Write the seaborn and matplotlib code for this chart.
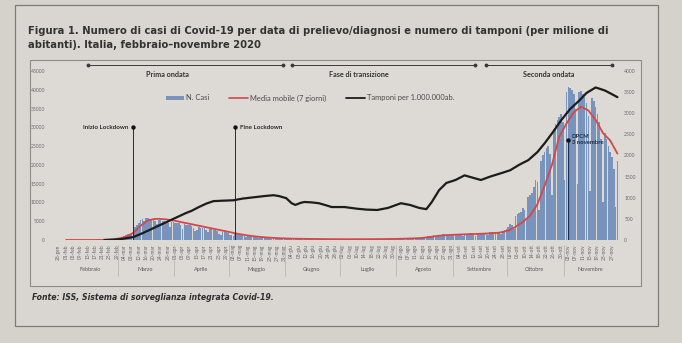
import numpy as np
import pandas as pd
import matplotlib
matplotlib.use("Agg")
import matplotlib.pyplot as plt
import matplotlib.transforms as mtransforms
from matplotlib.patches import Rectangle, Patch
from matplotlib.lines import Line2D
import seaborn as sns

# ---------------- data ----------------
START = pd.Timestamp("2020-02-01")

cases_feb = [0] * 17 + [5, 10, 25, 50, 90, 80, 160, 220, 260, 300, 350, 380]
cases_mar = [300, 500, 700, 950, 1200, 1500, 1600, 1500, 2800, 3400, 4000, 4600, 5400, 5600, 5000,
             5900, 5800, 5600, 5500, 5500, 5100, 4200, 5300, 5200, 5100, 5000, 4900, 4400, 3500,
             4800, 4700]
cases_apr = [4600, 4500, 4400, 3900, 3000, 4200, 4100, 4000, 3900, 3700, 3200, 2300, 2600, 3400,
             3300, 3200, 3100, 2700, 2000, 2900, 2800, 2700, 2600, 2400, 1700, 1400, 2200, 2100,
             2000, 1900]
cases_may = [1400, 1300, 1000, 1700, 1600, 1500, 1400, 1300, 1100, 750, 1200, 1100, 1000, 950, 900,
             750, 520, 800, 750, 700, 650, 620, 500, 360, 580, 550, 520, 500, 470, 400, 290]
cases_jun = [330, 260, 390, 380, 370, 310, 230, 340, 330, 320, 310, 300, 250, 180, 290, 280, 270,
             260, 250, 210, 160, 250, 240, 230, 230, 220, 190, 140, 220, 210]
cases_jul = [210, 210, 200, 170, 130, 210, 210, 220, 220, 220, 180, 140, 230, 230, 240, 240, 240,
             200, 150, 260, 260, 270, 270, 280, 230, 170, 300, 310, 320, 330, 340]
cases_aug = [280, 210, 360, 370, 390, 410, 430, 360, 270, 490, 530, 570, 610, 650, 460, 410, 900,
             1000, 1100, 1150, 1200, 1000, 800, 1400, 1450, 1500, 1500, 1550, 1250, 950, 1600]
cases_sep = [1600, 1600, 1650, 1650, 1350, 1000, 1700, 1700, 1700, 1750, 1750, 1450, 1100, 1800,
             1800, 1850, 1850, 1900, 1600, 1200, 2000, 2000, 2100, 2100, 2200, 1900, 1500, 2500,
             2700, 2900]
cases_oct = [3500, 4200, 4000, 3000, 6500, 7000, 7200, 7500, 8500, 8000, 5500, 11500, 12000, 12500,
             14000, 16000, 15500, 8000, 21000, 22500, 23500, 24500, 25000, 23000, 12000, 29500,
             31000, 32000, 32700, 33500, 31500]
cases_nov = [16000, 39500, 40700, 40500, 40000, 39000, 35000, 15000, 39500, 39800, 39000, 38000,
             36500, 33000, 13000, 37800, 37000, 35500, 33500, 31500, 27000, 10000, 28500, 27000,
             25000, 23500, 22000, 19000, 8800, 21000]

mm_dates = ["2020-02-01", "2020-02-15", "2020-02-22", "2020-02-27", "2020-03-02", "2020-03-05",
            "2020-03-09", "2020-03-13", "2020-03-17", "2020-03-20", "2020-03-23", "2020-03-27",
            "2020-04-01", "2020-04-06", "2020-04-11", "2020-04-16", "2020-04-21", "2020-04-26",
            "2020-05-01", "2020-05-06", "2020-05-11", "2020-05-16", "2020-05-21", "2020-05-27",
            "2020-06-05", "2020-06-15", "2020-06-25", "2020-07-05", "2020-07-15", "2020-07-25",
            "2020-08-01", "2020-08-08", "2020-08-14", "2020-08-19", "2020-08-24", "2020-08-30",
            "2020-09-06", "2020-09-13", "2020-09-20", "2020-09-26", "2020-10-01", "2020-10-05",
            "2020-10-09", "2020-10-13", "2020-10-17", "2020-10-21", "2020-10-25", "2020-10-29",
            "2020-11-02", "2020-11-06", "2020-11-10", "2020-11-14", "2020-11-18", "2020-11-22",
            "2020-11-26", "2020-11-30"]
mm_values = [0, 5, 40, 200, 500, 900, 1900, 3800, 5200, 5550, 5650, 5500, 5100, 4600, 4100, 3600,
             3100, 2600, 2100, 1600, 1200, 900, 680, 500, 350, 280, 230, 210, 220, 250, 300, 400,
             520, 800, 1150, 1350, 1500, 1600, 1750, 1950, 2500, 3500, 4800, 6500, 9500, 14500,
             20000, 27500, 31000, 34000, 35500, 34500, 32000, 28500, 26500, 23000]

tamp_dates = ["2020-02-22", "2020-02-26", "2020-03-02", "2020-03-09", "2020-03-14", "2020-03-20",
              "2020-03-27", "2020-04-01", "2020-04-07", "2020-04-10", "2020-04-14", "2020-04-18",
              "2020-04-22", "2020-04-27", "2020-05-03", "2020-05-08", "2020-05-14", "2020-05-20",
              "2020-05-25", "2020-05-28", "2020-06-01", "2020-06-04", "2020-06-06", "2020-06-09",
              "2020-06-11", "2020-06-15", "2020-06-19", "2020-06-23", "2020-06-26", "2020-07-03",
              "2020-07-10", "2020-07-15", "2020-07-21", "2020-07-27", "2020-08-03", "2020-08-08",
              "2020-08-13", "2020-08-17", "2020-08-20", "2020-08-24", "2020-08-28", "2020-09-02",
              "2020-09-07", "2020-09-11", "2020-09-16", "2020-09-21", "2020-09-27", "2020-10-02",
              "2020-10-07", "2020-10-12", "2020-10-17", "2020-10-21", "2020-10-26", "2020-10-30",
              "2020-11-04", "2020-11-09", "2020-11-13", "2020-11-18", "2020-11-23", "2020-11-27",
              "2020-11-30"]
tamp_values = [0, 5, 20, 70, 160, 280, 420, 520, 640, 690, 780, 860, 920, 930, 940, 980, 1010, 1040,
               1060, 1040, 990, 870, 830, 880, 900, 890, 870, 820, 780, 780, 740, 720, 710, 760, 870,
               830, 760, 730, 900, 1180, 1350, 1420, 1530, 1480, 1420, 1500, 1580, 1650, 1780, 1890,
               2080, 2290, 2580, 2830, 3100, 3300, 3480, 3610, 3540, 3450, 3380]

month_names = ["Febbraio", "Marzo", "Aprile", "Maggio", "Giugno", "Luglio", "Agosto",
               "Settembre", "Ottobre", "Novembre"]
month_abbr = {1: "gen", 2: "feb", 3: "mar", 4: "apr", 5: "mag", 6: "giu", 7: "lug", 8: "ago",
              9: "set", 10: "ott", 11: "nov", 12: "dic"}

phase_names = ["Prima ondata", "Fase di transizione", "Seconda ondata"]
phase_start = ["2020-02-13", "2020-06-04", "2020-09-19"]
phase_end = ["2020-05-30", "2020-09-13", "2020-11-27"]
phase_label_at = ["2020-03-28", "2020-07-11", "2020-10-23"]

events = ["Inizio Lockdown", "Fine Lockdown", "DPCM\n3 novembre"]
event_dates = ["2020-03-09", "2020-05-04", "2020-11-03"]
event_levels = [30000, 30000, 26600]

# ---------------- helpers ----------------
def dnum(s):
    return (pd.Timestamp(s) - START).days

cases = (cases_feb + cases_mar + cases_apr + cases_may + cases_jun + cases_jul + cases_aug
         + cases_sep + cases_oct + cases_nov)
days = np.arange(len(cases))
df_cases = pd.DataFrame({"day": days, "cases": cases})
df_mm = pd.DataFrame({"day": [dnum(s) for s in mm_dates], "v": mm_values})
df_t = pd.DataFrame({"day": [dnum(s) for s in tamp_dates], "v": tamp_values})

W, H = 682, 343
fx = lambda x: x / W
fy = lambda y: 1 - y / H

sns.set_theme(style="white")
plt.rcParams["font.family"] = ["Lato", "DejaVu Sans"]

BG = "#d5d2cc"
fig = plt.figure(figsize=(W / 100, H / 100), dpi=100, facecolor=BG)

# frames (paper figure box)
fig.patches.append(Rectangle((fx(15), fy(326)), fx(658) - fx(15), fy(5) - fy(326),
                             transform=fig.transFigure, facecolor="#d9d6d1", edgecolor="#7d7b78",
                             lw=0.9, zorder=-20))
fig.patches.append(Rectangle((fx(30), fy(286)), fx(641) - fx(30), fy(60) - fy(286),
                             transform=fig.transFigure, facecolor="#dddad5", edgecolor="#8e8c89",
                             lw=0.8, zorder=-10))

YTOP = 47500
ax = fig.add_axes([fx(52), fy(240), fx(620) - fx(52), fy(61.6) - fy(240)])
ax.set_facecolor("none")
ax2 = ax.twinx()
ax2.set_facecolor("none")

BLUE = "#7893bc"
RED = "#d4474a"

sns.histplot(data=df_cases, x="day", weights="cases", discrete=True, shrink=0.88,
             color=BLUE, alpha=1.0, linewidth=0, ax=ax)
sns.lineplot(data=df_mm, x="day", y="v", color=RED, lw=1.3, ax=ax)
sns.lineplot(data=df_t, x="day", y="v", color="#1c1c1c", lw=1.6, ax=ax2)

ax.set_xlim(-7.7, 304.4)
ax.set_ylim(0, YTOP)
ax2.set_ylim(0, YTOP * 4000 / 45000)
ax2.set_xlim(-7.7, 304.4)
for a in (ax, ax2):
    for s in a.spines.values():
        s.set_visible(False)
    a.set_xlabel("")
    a.set_ylabel("")

ax.set_yticks(np.arange(0, 45001, 5000))
ax.set_yticklabels([f"{v}" for v in range(0, 45001, 5000)])
ax2.set_yticks(np.arange(0, 4001, 500))
ax2.set_yticklabels([f"{v}" for v in range(0, 4001, 500)])
ax.tick_params(axis="y", length=0, pad=5, labelsize=3.6, labelcolor="#6a6a6a")
ax2.tick_params(axis="y", length=0, pad=3, labelsize=3.6, labelcolor="#6a6a6a")

# x ticks every 4 days
tick_days = np.arange(-4, 303, 4)
tick_labels = []
for d in tick_days:
    dt = START + pd.Timedelta(days=int(d))
    tick_labels.append(f"{dt.day:02d}-{month_abbr[dt.month]}")
ax.set_xticks(tick_days)
ax.set_xticklabels(tick_labels, rotation=90)
ax.tick_params(axis="x", length=0, pad=3, labelsize=3.5, labelcolor="#666666")
ax2.tick_params(axis="x", length=0, labelbottom=False)

trans = mtransforms.blended_transform_factory(ax.transData, ax.transAxes)
for i, m in enumerate(month_names):
    mstart = pd.Timestamp(2020, i + 2, 1)
    mend = pd.Timestamp(2020, i + 3, 1)
    mid = ((mstart - START).days + (mend - START).days) / 2
    ax.text(mid - 1, -0.168, m, transform=trans, ha="center", va="center", fontsize=4.0,
            color="#5a5a5a")
    if i > 0:
        xd = (mstart - START).days - 0.5
        ax.plot([xd, xd], [-0.03, -0.2], transform=trans, color="#b3b0ab", lw=0.5,
                clip_on=False)

# events
for name, ds, lvl in zip(events, event_dates, event_levels):
    d = dnum(ds)
    col = "#1d2b4d" if "DPCM" in name else "#2a2a2a"
    ax.plot([d, d], [0, lvl], color=col, lw=0.9 if "DPCM" in name else 0.7, zorder=4)
    ax.scatter([d], [lvl], s=10, color="#111111", zorder=5, linewidths=0)
    if name.startswith("Inizio"):
        ax.text(d - 2.5, lvl, name, ha="right", va="center", fontsize=4.5, fontweight="bold",
                color="#2a2a2a")
    elif name.startswith("Fine"):
        ax.text(d + 2.5, lvl, name, ha="left", va="center", fontsize=4.5, fontweight="bold",
                color="#2a2a2a")
    else:
        ax.text(d + 2.0, lvl + 1600, name, ha="left", va="top", fontsize=4.2, fontweight="bold",
                color="#1d2b4d", linespacing=1.3, zorder=6)

# phases
for name, s, e, lab in zip(phase_names, phase_start, phase_end, phase_label_at):
    ds_, de_ = dnum(s), dnum(e)
    ax.plot([ds_, de_], [46700, 46700], color="#3a3a3a", lw=0.7, clip_on=False,
            marker="o", markersize=1.8, zorder=5)
    ax.text(dnum(lab), 44100, name, ha="center", va="center", fontsize=5.2,
            fontweight="bold", color="#333333")

# legend
handles = [Patch(facecolor=BLUE, edgecolor="none"),
           Line2D([0], [0], color=RED, lw=1.2),
           Line2D([0], [0], color="#1c1c1c", lw=1.3)]
labels = ["N. Casi", "Media mobile (7 giorni)", "Tamponi per 1.000.000ab."]
leg = fig.legend(handles, labels, loc="center", bbox_to_anchor=(fx(310), fy(98)), ncol=3,
                 frameon=False, fontsize=5.4, handlelength=2.5, handleheight=0.45,
                 columnspacing=2.6, handletextpad=0.3)
for t in leg.get_texts():
    t.set_color("#4a4a4a")

# title and source (narrow look, fitted to reference width)
fam = ["DejaVu Sans", "Liberation Sans"]
t1 = fig.text(fx(28), fy(31), "Figura 1. Numero di casi di Covid-19 per data di prelievo/diagnosi e "
              "numero di tamponi (per milione di", fontsize=8.6, fontweight="bold",
              color="#333333", family=fam, fontstretch="condensed", ha="left", va="center")
t2 = fig.text(fx(28), fy(45), "abitanti). Italia, febbraio\u2013novembre 2020", fontsize=8.6,
              fontweight="bold", color="#333333", family=fam, fontstretch="condensed",
              ha="left", va="center")
t3 = fig.text(fx(32), fy(298), "Fonte: ISS, Sistema di sorveglianza integrata Covid-19.",
              fontsize=6.6, style="italic", fontweight="bold", color="#2e2e2e", family=fam,
              fontstretch="condensed", ha="left", va="center")
fig.canvas.draw()
r = fig.canvas.get_renderer()
w1 = t1.get_window_extent(r).width
t1.set_fontsize(8.6 * 576.0 / w1)
t2.set_fontsize(8.6 * 576.0 / w1)
w3 = t3.get_window_extent(r).width
t3.set_fontsize(6.6 * 238.0 / w3)

fig.savefig("out.png", dpi=100, facecolor=BG)
